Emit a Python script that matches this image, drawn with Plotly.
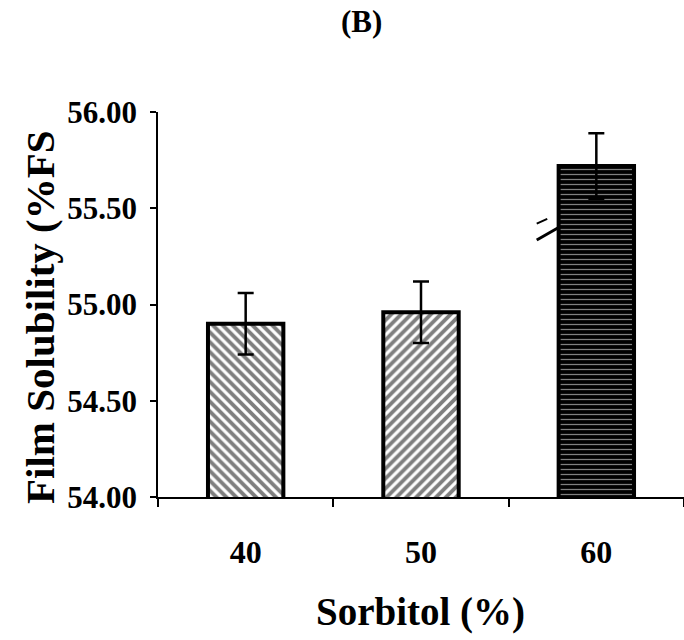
import plotly.graph_objects as go

categories = ["40", "50", "60"]
solubility = [54.90, 54.96, 55.72]
errors = [0.16, 0.16, 0.17]
patterns = ["\\", "/", "-"]
y_ticks = [54.0, 54.5, 55.0, 55.5, 56.0]
y_tick_labels = ["54.00", "54.50", "55.00", "55.50", "56.00"]

FONT = "Liberation Serif"

fig = go.Figure()
fig.add_trace(go.Bar(
    x=categories,
    y=solubility,
    width=0.43,
    marker=dict(
        color="white",
        line=dict(color="black", width=4),
        pattern=dict(
            shape=patterns,
            fgcolor=["black", "black", "white"],
            bgcolor=["white", "white", "black"],
            size=[7, 7, 5],
            solidity=[0.55, 0.55, 0.25],
        ),
    ),
    error_y=dict(type="data", array=errors, visible=True,
                 color="black", thickness=2.5, width=8),
))

# axis break mark near the third bar
fig.add_shape(type="line", xref="x", yref="y", x0=1.66, y0=55.335, x1=1.785, y1=55.40,
              line=dict(color="black", width=3))
fig.add_shape(type="line", xref="x", yref="y", x0=1.66, y0=55.42, x1=1.72, y1=55.445,
              line=dict(color="black", width=2))

fig.update_layout(
    width=684, height=640,
    margin=dict(l=158, r=0, t=112, b=143),
    paper_bgcolor="white", plot_bgcolor="white",
    showlegend=False,
    font=dict(family=FONT, color="black"),
    bargap=0.57,
)
fig.update_xaxes(
    type="category", range=[-0.5, 2.5],
    showline=True, linecolor="black", linewidth=1.5,
    ticks="outside", ticklen=8, tickcolor="black", tickwidth=1.5,
    tickson="boundaries",
    tickfont=dict(family=FONT, size=32, color="black", weight="bold"),
    ticklabelstandoff=26,
    showgrid=False, zeroline=False,
)
fig.update_yaxes(
    range=[54, 56],
    tickvals=y_ticks, ticktext=y_tick_labels,
    showline=True, linecolor="black", linewidth=1.5,
    ticks="outside", ticklen=6, tickcolor="black", tickwidth=1.5,
    tickfont=dict(family=FONT, size=31, color="black", weight="bold"),
    ticklabelstandoff=7,
    showgrid=False, zeroline=False,
)

fig.add_annotation(text="<b>(B)</b>", xref="paper", yref="paper",
                   x=(361 - 158) / 526, y=1 + (112 - 21) / 385,
                   xanchor="center", yanchor="middle", showarrow=False,
                   font=dict(family=FONT, size=31, color="black"))
fig.add_annotation(text="<b>Sorbitol (%)</b>", xref="paper", yref="paper",
                   x=(420 - 158) / 526, y=-(612 - 497) / 385,
                   xanchor="center", yanchor="middle", showarrow=False,
                   font=dict(family=FONT, size=39, color="black"))
fig.add_annotation(text="<b>Film Solubility (%FS</b>", xref="paper", yref="paper",
                   x=-(158 - 40) / 526, y=(497 - 317) / 385,
                   xanchor="center", yanchor="middle", showarrow=False, textangle=-90,
                   font=dict(family=FONT, size=41, color="black"))

fig.write_html("out.html")
